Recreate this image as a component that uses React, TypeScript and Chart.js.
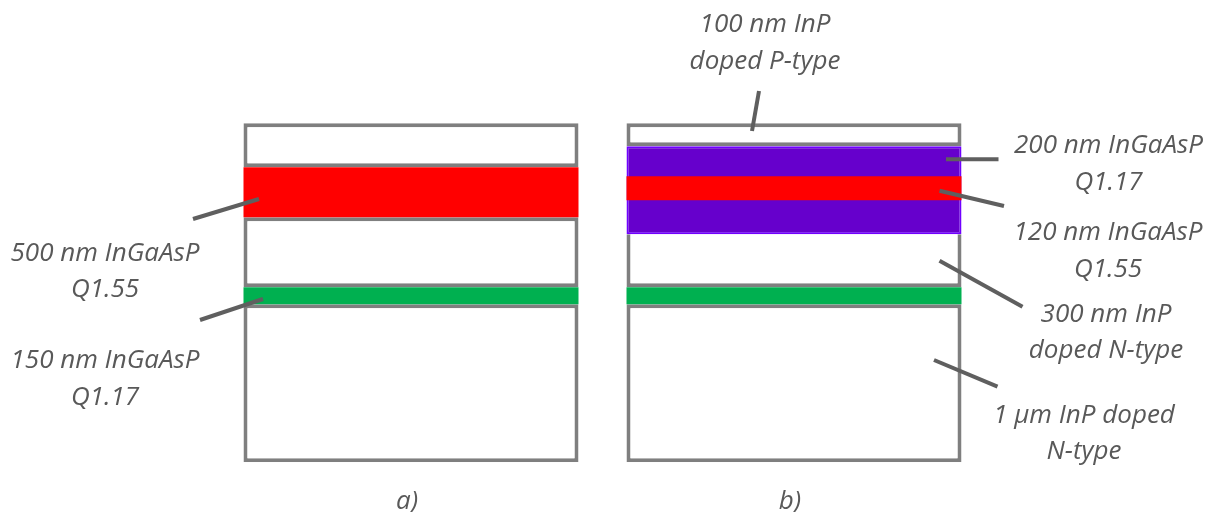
import React, { useEffect, useRef } from "react";
import { Chart, registerables } from "chart.js";

Chart.register(...registerables);

// Panel (category) labels
const panelLabels = ["a)", "b)"];

// Layer boundaries [bottom, top] in diagram units (not to scale), one entry per panel
const inpBottom = [[0, 158], [0, 158]];          // 1 µm InP N-type
const q117Thin = [[158, 175], [158, 175]];        // 150 nm InGaAsP Q1.17 (green)
const inpMiddle = [[175, 245], [175, 228]];       // InP spacer / 300 nm InP N-type
const q155Core = [[245, 295], [262, 286]];        // InGaAsP Q1.55
const q117Clad = [null, [228, 316]];              // 200 nm InGaAsP Q1.17 (purple)
const inpCap = [[295, 339], [316, 339]];          // InP cap / 100 nm InP P-type

// Leader lines: pairs of [x, y] points in diagram units
const leaderLines = [
  [[-26.5, 243.3], [39.5, 263.3]],
  [[-19.5, 142.3], [43.5, 163.3]],
  [[539.5, 371.3], [532.5, 331.3]],
  [[726.5, 303], [779, 303]],
  [[720, 271.6], [784.5, 256.3]],
  [[720, 201.6], [803, 155.6]],
  [[714.5, 102.3], [778, 75.6]],
];

// Annotation texts and anchors (centre x, first baseline y) in diagram units
const noteText = [
  ["500 nm InGaAsP", "Q1.55"],
  ["150 nm InGaAsP", "Q1.17"],
  ["100 nm InP", "doped P-type"],
  ["200 nm InGaAsP", "Q1.17"],
  ["120 nm InGaAsP", "Q1.55"],
  ["300 nm InP", "doped N-type"],
  ["1 µm InP doped", "N-type"],
];
const noteAnchor = [
  [-114.5, 201.6],
  [-114.5, 94.3],
  [545.5, 430],
  [889, 309],
  [888.5, 222.3],
  [886.5, 140.6],
  [864.5, 39.6],
];
const noteLineGap = 36.5;

const FONT_FAMILY = "'Open Sans'";
const FONT_SIZE = 26;
const TEXT_COLOR = "#595959";

const notesPlugin = {
  id: "notes",
  afterDatasetsDraw(chart: any) {
    const { ctx, scales } = chart;
    const xs = scales.x2;
    const ys = scales.y;
    ctx.save();
    ctx.font = `italic ${FONT_SIZE}px ${FONT_FAMILY}`;
    ctx.fillStyle = TEXT_COLOR;
    ctx.textAlign = "center";
    ctx.textBaseline = "alphabetic";
    noteText.forEach((lines, i) => {
      const [ux, uy] = noteAnchor[i];
      const px = xs.getPixelForValue(ux);
      lines.forEach((t, j) => {
        ctx.fillText(t, px, ys.getPixelForValue(uy - j * noteLineGap));
      });
    });
    ctx.restore();
  },
};

export default function App() {
  const canvasRef = useRef<HTMLCanvasElement | null>(null);

  useEffect(() => {
    if (!canvasRef.current) return;
    const boxStyle = {
      backgroundColor: "#ffffff",
      borderColor: "#7f7f7f",
      borderWidth: 4,
      order: 5,
    };
    const chart = new Chart(canvasRef.current, {
      type: "bar",
      data: {
        labels: panelLabels,
        datasets: [
          ...leaderLines.map((l) => ({
            type: "line" as const,
            xAxisID: "x2",
            yAxisID: "y",
            data: l.map(([x, y]) => ({ x, y })),
            borderColor: "#5f5f5f",
            borderWidth: 4,
            borderCapStyle: "butt" as const,
            pointRadius: 0,
            clip: false as any,
            order: 1,
          })),
          {
            data: q155Core as any,
            backgroundColor: "#ff0000",
            borderWidth: 0,
            order: 2,
          },
          {
            data: q117Clad as any,
            backgroundColor: "#6600cc",
            borderColor: "#7000ff",
            borderWidth: 2,
            borderSkipped: false,
            order: 3,
          },
          {
            data: q117Thin as any,
            backgroundColor: "#00b050",
            borderWidth: 0,
            order: 4,
          },
          { data: inpCap as any, ...boxStyle, borderSkipped: false },
          {
            data: inpMiddle as any,
            ...boxStyle,
            borderSkipped: ((c: any) => (c.dataIndex === 1 ? "top" : false)) as any,
          },
          { data: inpBottom as any, ...boxStyle, borderSkipped: false },
        ] as any,
      },
      options: {
        animation: false,
        responsive: true,
        maintainAspectRatio: false,
        layout: { padding: { left: 219.5, right: 225.5, top: 0, bottom: 0 } },
        plugins: { legend: { display: false }, tooltip: { enabled: false } },
        datasets: {
          bar: { categoryPercentage: 1, barPercentage: 0.8747, grouped: false },
        },
        scales: {
          x: {
            type: "category",
            grid: { display: false },
            border: { display: false },
            ticks: {
              font: { family: FONT_FAMILY, style: "italic", size: FONT_SIZE },
              color: TEXT_COLOR,
              padding: 16,
              labelOffset: -4,
            },
            afterFit: (scale: any) => {
              scale.height = 49.7;
            },
          },
          x2: { type: "linear", display: false, offset: false, min: 0, max: 766 },
          y: { type: "linear", display: false, offset: false, min: 0, max: 462.3, stacked: false },
        },
      } as any,
      plugins: [notesPlugin],
    });
    return () => chart.destroy();
  }, []);

  return (
    <div
      style={{
        position: "fixed",
        left: 0,
        top: 0,
        width: "1211px",
        height: "512px",
        background: "#ffffff",
      }}
    >
      <canvas ref={canvasRef} />
    </div>
  );
}
